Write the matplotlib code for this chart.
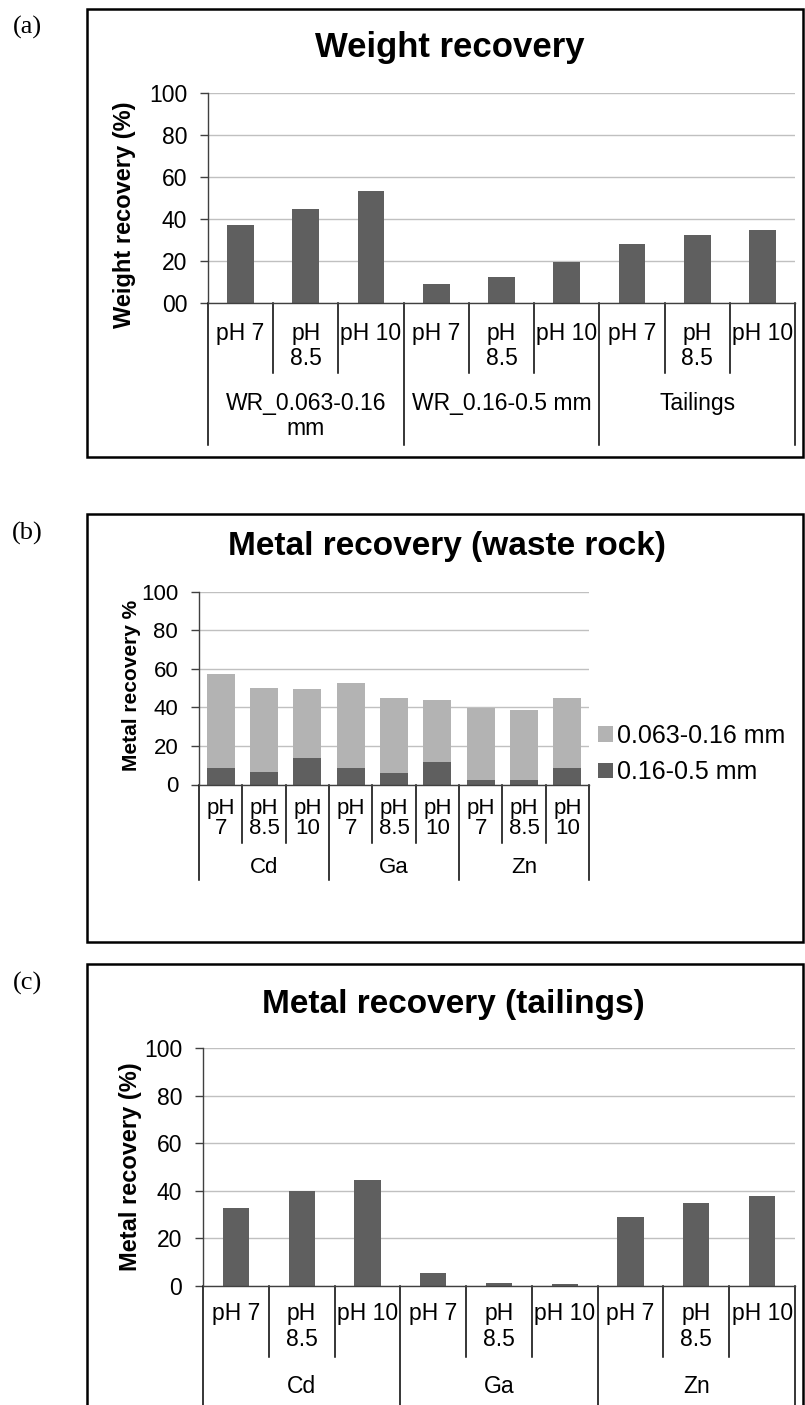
import matplotlib
matplotlib.use('Agg')
import matplotlib.pyplot as plt
from matplotlib.patches import Rectangle

plt.rcParams['font.family'] = ['Liberation Sans', 'DejaVu Sans']

# ---- data ----
ph_a = ['pH 7', 'pH\n8.5', 'pH 10']
groups_a = ['WR_0.063-0.16\nmm', 'WR_0.16-0.5 mm', 'Tailings']
weight_rec = [37.3, 44.6, 53.3, 8.9, 12.3, 19.3, 28.0, 32.2, 34.9]
yticks_a = ['00', '20', '40', '60', '80', '100']

ph_b = ['pH\n7', 'pH\n8.5', 'pH\n10']
metals = ['Cd', 'Ga', 'Zn']
coarse = [8.8, 6.5, 13.8, 8.3, 6.2, 11.5, 2.4, 2.4, 8.3]      # 0.16-0.5 mm
fine = [48.2, 43.5, 35.8, 44.2, 38.4, 32.2, 37.4, 36.3, 36.6]  # 0.063-0.16 mm
yticks_b = ['0', '20', '40', '60', '80', '100']

ph_c = ['pH 7', 'pH\n8.5', 'pH 10']
tailings_rec = [32.7, 40.1, 44.6, 5.6, 1.3, 0.8, 29.0, 35.0, 38.0]

DARK = '#5f5f5f'
LIGHT = '#b3b3b3'
GRID = '#c0c0c0'
AX = '#404040'

W, H = 805, 1405
fig = plt.figure(figsize=(W/100, H/100), dpi=100)


def px_rect(l, t, r, b):
    return [l/W, 1 - b/H, (r - l)/W, (b - t)/H]


def setup(ax, top, bot, ylabels, fs):
    ax.set_ylim(0, 100)
    ax.set_xlim(-0.5, 8.5)
    ax.set_yticks(range(0, 101, 20))
    ax.set_yticklabels(ylabels)
    ax.set_xticks([])
    ax.tick_params(axis='y', length=6, width=1, color=AX, pad=9, labelsize=fs)
    ax.yaxis.grid(True, color=GRID, lw=1)
    ax.set_axisbelow(True)
    for s in ['top', 'right']:
        ax.spines[s].set_visible(False)
    for s in ['left', 'bottom']:
        ax.spines[s].set_color(AX)
        ax.spines[s].set_linewidth(1)
        ax.spines[s].set_zorder(3)


def cat_axis(ax, top, bot, subs, groups, sub_top, sub_end, grp_top, grp_end, fs, lsp):
    ydat = lambda py: (bot - py) / (bot - top) * 100
    k = len(subs)
    n = k * len(groups)
    for i in range(n + 1):
        end = grp_end if i % k == 0 else sub_end
        ax.plot([i - 0.5, i - 0.5], [0, ydat(end)], color='k', lw=1.1, clip_on=False)
    for i in range(n):
        ax.text(i, ydat(sub_top), subs[i % k], ha='center', va='top',
                fontsize=fs, linespacing=lsp, clip_on=False)
    for g, name in enumerate(groups):
        ax.text(g * k + (k - 1) / 2, ydat(grp_top), name, ha='center', va='top',
                fontsize=fs, linespacing=lsp, clip_on=False)


# frames
for (l, t, r, b) in [(87, 9, 803, 457), (87, 514, 803, 942), (87, 964, 803, 1420)]:
    fig.patches.append(Rectangle((l/W, 1 - b/H), (r - l)/W, (b - t)/H, transform=fig.transFigure,
                                 fill=False, edgecolor='k', lw=1.8))

for lab, y in [('(a)', 27), ('(b)', 533), ('(c)', 983)]:
    fig.text(27/W, 1 - y/H, lab, ha='center', va='center', fontsize=19,
             family=['Liberation Serif', 'DejaVu Serif'])

x = list(range(9))

# (a) weight recovery
ax1 = fig.add_axes(px_rect(208, 93, 795, 303))
setup(ax1, 93, 303, yticks_a, 16.5)
ax1.bar(x, weight_rec, width=0.41, color=DARK, zorder=2)
cat_axis(ax1, 93, 303, ph_a, groups_a, 322, 373, 392, 445, 16.5, 1.12)
fig.text(450/W, 1 - 57/H, 'Weight recovery', ha='center', va='baseline', fontsize=25, fontweight='bold')
fig.text(125/W, 1 - 215/H, 'Weight recovery (%)', rotation=90, ha='center', va='center',
         fontsize=17, fontweight='bold')

# (b) metal recovery waste rock
ax2 = fig.add_axes(px_rect(199, 591.5, 589, 784.5))
setup(ax2, 591.5, 784.5, yticks_b, 16)
b1 = ax2.bar(x, coarse, width=0.65, color=DARK, zorder=2)
b2 = ax2.bar(x, fine, width=0.65, bottom=coarse, color=LIGHT, zorder=2)
cat_axis(ax2, 591.5, 784.5, ph_b, metals, 798, 843, 857, 880, 16, 0.92)
fig.text(447/W, 1 - 555/H, 'Metal recovery (waste rock)', ha='center', va='baseline', fontsize=24, fontweight='bold')
fig.text(131/W, 1 - 685/H, 'Metal recovery %', rotation=90, ha='center', va='center',
         fontsize=15, fontweight='bold')
ax2.legend([b2, b1], ['0.063-0.16 mm', '0.16-0.5 mm'], loc='center left',
           bbox_to_anchor=(598/W, 1 - 754/H), bbox_transform=fig.transFigure,
           frameon=False, fontsize=18, handlelength=0.6, handleheight=0.6,
           handletextpad=0.15, labelspacing=0.5, borderpad=0, borderaxespad=0)

# (c) metal recovery tailings
ax3 = fig.add_axes(px_rect(203, 1048, 795, 1286))
setup(ax3, 1048, 1286, yticks_b, 16.5)
ax3.bar(x, tailings_rec, width=0.4, color=DARK, zorder=2)
cat_axis(ax3, 1048, 1286, ph_c, metals, 1302, 1357, 1375, 1420, 16.5, 1.18)
fig.text(453/W, 1 - 1013/H, 'Metal recovery (tailings)', ha='center', va='baseline', fontsize=24, fontweight='bold')
fig.text(130/W, 1 - 1167/H, 'Metal recovery (%)', rotation=90, ha='center', va='center',
         fontsize=17, fontweight='bold')

fig.savefig('out.png', dpi=100)
